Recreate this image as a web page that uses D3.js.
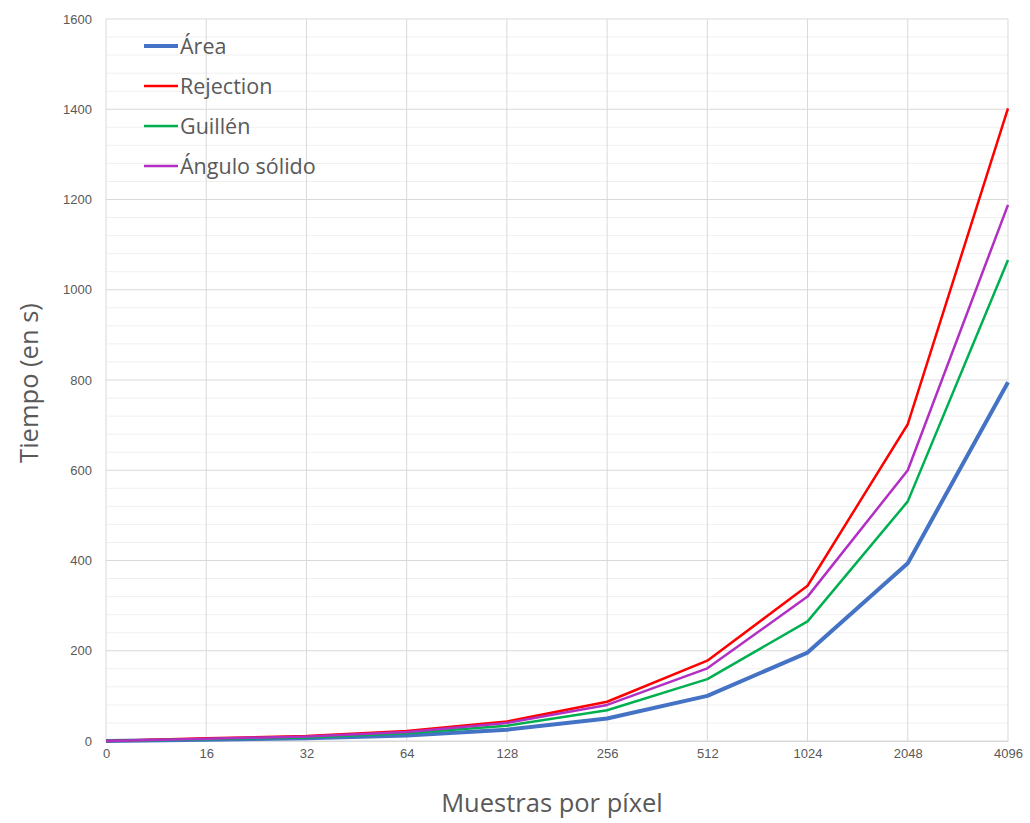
<!DOCTYPE html>
<html><head><meta charset="utf-8">
<script src="https://cdn.jsdelivr.net/npm/d3@7"></script>
<style>body{margin:0;background:#fff;} svg{display:block;font-family:"Open Sans","Noto Sans",sans-serif;}</style>
</head><body>
<svg id="c" width="1030" height="823"></svg>
<script>
const categories = ["0","16","32","64","128","256","512","1024","2048","4096"];
const area      = [0, 3, 6, 12, 25, 50, 100, 196, 394, 795];
const rejection = [0, 6, 11, 22, 43, 87, 178, 344, 702, 1402];
const guillen   = [0, 4, 8, 17, 34, 68, 137, 265, 531, 1066];
const angulo    = [0, 5, 10, 20, 40, 80, 161, 320, 600, 1188];
const yTicks = [0, 200, 400, 600, 800, 1000, 1200, 1400, 1600];

const series = [
  {name:"Área", values:area, color:"#4472C4", w:4},
  {name:"Rejection", values:rejection, color:"#FF0000", w:2.5},
  {name:"Guillén", values:guillen, color:"#00B050", w:2.5},
  {name:"Ángulo sólido", values:angulo, color:"#B12FC3", w:2.5}
];

const svg = d3.select("#c");
const L=106, R=1008, T=19, B=741;
const x = d3.scalePoint().domain(categories).range([L,R]);
const y = d3.scaleLinear().domain([0,1600]).range([B,T]);

// minor grid
const minor = d3.range(0,1601,40).filter(v=>v%200!==0);
svg.append("g").selectAll("line").data(minor).join("line")
  .attr("x1",L).attr("x2",R).attr("y1",d=>y(d)).attr("y2",d=>y(d))
  .attr("stroke","#f0f0f0").attr("stroke-width",1);
// major grid
svg.append("g").selectAll("line").data(yTicks).join("line")
  .attr("x1",L).attr("x2",R).attr("y1",d=>y(d)).attr("y2",d=>y(d))
  .attr("stroke","#d9d9d9").attr("stroke-width",1);
svg.append("g").selectAll("line").data(categories).join("line")
  .attr("x1",d=>x(d)).attr("x2",d=>x(d)).attr("y1",T).attr("y2",B)
  .attr("stroke","#d9d9d9").attr("stroke-width",1);

// axes
const yAxis = svg.append("g").attr("transform",`translate(${L},0)`)
  .call(d3.axisLeft(y).tickValues(yTicks).tickFormat(d3.format("d")).tickSize(0).tickPadding(14));
yAxis.select(".domain").remove();
yAxis.selectAll("text").attr("fill","#595959").style("font-size","13px");
const xAxis = svg.append("g").attr("transform",`translate(0,${B})`)
  .call(d3.axisBottom(x).tickSize(0).tickPadding(8));
xAxis.select(".domain").attr("stroke","#d9d9d9");
xAxis.selectAll("text").attr("fill","#595959").style("font-size","13px");

// lines
const line = d3.line().x((d,i)=>x(categories[i])).y(d=>y(d));
series.forEach(s=>{
  svg.append("path").datum(s.values).attr("d",line)
    .attr("fill","none").attr("stroke",s.color).attr("stroke-width",s.w)
    .attr("stroke-linejoin","round");
});

// legend
const lg = svg.append("g");
series.forEach((s,i)=>{
  const yy = 46 + i*40;
  lg.append("line").attr("x1",144).attr("x2",178).attr("y1",yy).attr("y2",yy)
    .attr("stroke",s.color).attr("stroke-width",s.w);
  lg.append("text").attr("x",180).attr("y",yy).attr("dy","0.35em")
    .attr("fill","#595959").style("font-size","21.5px").text(s.name);
});

// titles
svg.append("text").attr("transform","translate(38,383) rotate(-90)")
  .attr("text-anchor","middle").attr("fill","#595959")
  .style("font-size","25.5px").text("Tiempo (en s)");
svg.append("text").attr("x",552).attr("y",812).attr("text-anchor","middle")
  .attr("fill","#595959").style("font-size","25.5px")
  .text("Muestras por píxel");
</script>
</body></html>
